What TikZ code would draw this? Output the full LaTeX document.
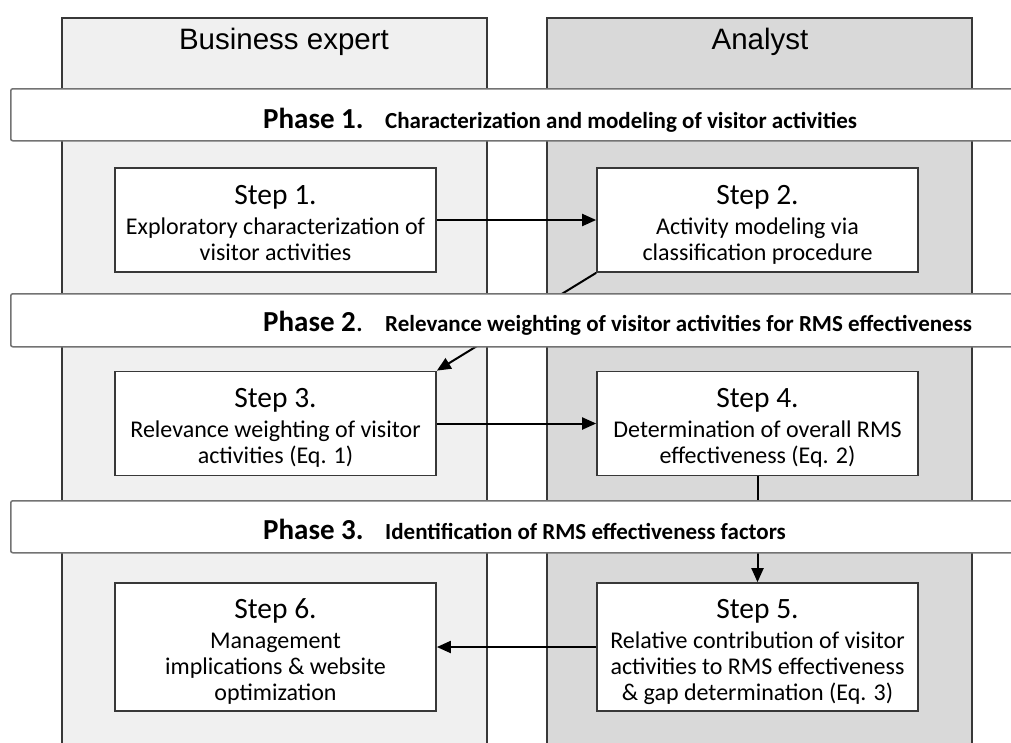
\documentclass[tikz,border=0pt]{standalone}
\usepackage{fontspec}
\setmainfont{Carlito}
\newfontfamily\headfont{Liberation Sans}
\usetikzlibrary{arrows.meta}

\definecolor{laneBE}{gray}{0.94}
\definecolor{laneAN}{gray}{0.85}
\definecolor{edgegray}{gray}{0.22}

% struts that fix the text block inside a step box
\newcommand{\steptop}{\rule{0pt}{29pt}}
\newcommand{\stepbot}{\rule[-4.5pt]{0pt}{0pt}}
\newcommand{\stephead}[1]{{\fontsize{29.5}{31}\selectfont\steptop #1}\\[4pt]}

\tikzset{
  lane/.style={draw=edgegray, line width=1.3pt},
  lanehead/.style={anchor=base, inner sep=0pt, font=\headfont\fontsize{29.5}{32}\selectfont},
  stepbox/.style={draw=edgegray, fill=white, line width=1.7pt, minimum width=321pt,
    minimum height=104pt, align=center, inner sep=0pt, font=\fontsize{24}{26}\selectfont},
  phasebar/.style={draw=black!55, fill=white, line width=1.5pt, rounded corners=2pt,
    anchor=north west, minimum width=1010pt, minimum height=52pt},
  phaselabel/.style={anchor=base west, inner sep=0pt, font=\bfseries\fontsize{29}{31}\selectfont},
  phasetext/.style={anchor=base west, inner sep=0pt, font=\bfseries\fontsize{23}{25}\selectfont},
  flow/.style={-{Triangle[length=14pt,width=12pt]}, line width=2pt, black},
}

\begin{document}
\begin{tikzpicture}[x=1pt,y=-1pt]
\useasboundingbox (0,0) rectangle (1011,742);

% lanes
\draw [lane, fill=laneBE] (62,18) rectangle (487,760);
\draw [lane, fill=laneAN] (547,18) rectangle (972,760);
\node [lanehead] (hbe) at (284,49) {Business expert};
\node [lanehead] (han) at (760,49) {Analyst};

% steps
\node [stepbox] (s1) at (275.5,220) {\stephead{Step 1.}
  Exploratory characterization of\\ visitor activities\stepbot};
\node [stepbox] (s2) at (757.5,220) {\stephead{Step 2.}
  Activity modeling via\\ classification procedure\stepbot};
\node [stepbox] (s3) at (275.5,423.5) {\stephead{Step 3.}
  Relevance weighting of visitor\\ activities (Eq. 1)\stepbot};
\node [stepbox] (s4) at (757.5,423.5) {\stephead{Step 4.}
  Determination of overall RMS\\ effectiveness (Eq. 2)\stepbot};
\node [stepbox, minimum height=128pt] (s6) at (275.5,647) {\stephead{Step 6.}
  Management\\ implications \& website\\ optimization\stepbot};
\node [stepbox, minimum height=128pt] (s5) at (757.5,647) {\stephead{Step 5.}
  Relative contribution of visitor\\ activities to RMS effectiveness\\ \& gap determination (Eq. 3)\stepbot};

% arrows
\draw [flow] (s1.east) -- (s2.west);
\draw [flow] (s2.south west) -- (s3.north east);
\draw [flow] (s3.east) -- (s4.west);
\draw [flow] (s4.south) -- (s5.north);
\draw [flow] (s5.west) -- (s6.east);

% phases
\node [phasebar] (bar1) at (10,88) {};
\node [phaselabel] (ph1) at (263,128) {Phase 1.};
\node [phasetext] (ph1t) at (385,128) {Characterization and modeling of visitor activities};

\node [phasebar, minimum height=53pt] (bar2) at (10,293) {};
\node [phaselabel] (ph2) at (263,331) {Phase 2\mdseries.};
\node [phasetext] (ph2t) at (385,331) {Relevance weighting of visitor activities for RMS effectiveness};

\node [phasebar] (bar3) at (10,500) {};
\node [phaselabel] (ph3) at (263,539) {Phase 3.};
\node [phasetext] (ph3t) at (385,539) {Identification of RMS effectiveness factors};
\end{tikzpicture}
\end{document}
